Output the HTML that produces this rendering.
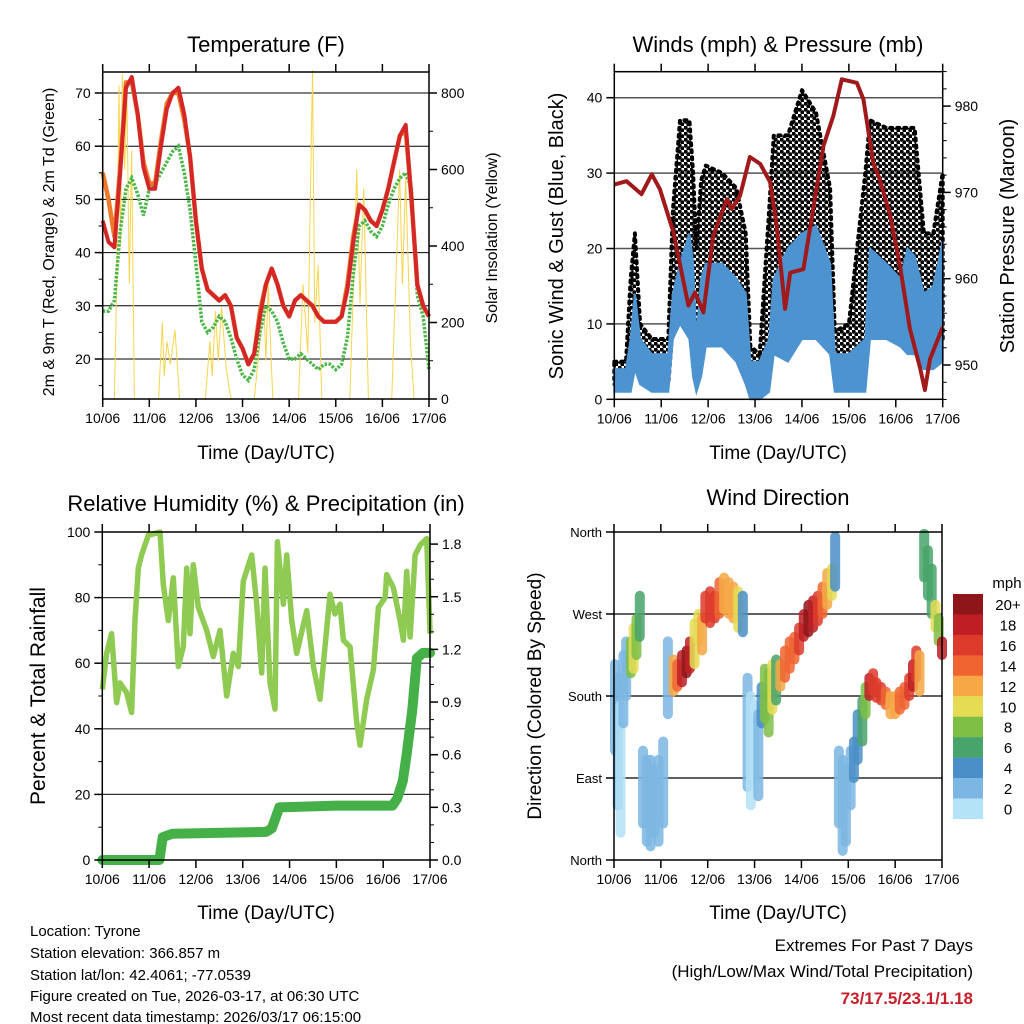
<!DOCTYPE html>
<html><head><meta charset="utf-8"><style>
html,body{margin:0;padding:0;background:#fff;}
svg{display:block;font-family:"Liberation Sans",Arial,sans-serif;}
</style></head><body>
<svg id="root" width="1024" height="1024" viewBox="0 0 1024 1024" xmlns="http://www.w3.org/2000/svg">
<defs>
<pattern id="dots" width="6" height="6" patternUnits="userSpaceOnUse">
<circle cx="1.5" cy="1.5" r="2.2" fill="#000"/>
<circle cx="4.5" cy="4.5" r="2.2" fill="#000"/>
</pattern>
</defs>
<rect x="0" y="0" width="1024" height="1024" fill="#fff"/>
<text x="266" y="52" font-size="22" text-anchor="middle">Temperature (F)</text>
<text x="778" y="52" font-size="22" text-anchor="middle">Winds (mph) &amp; Pressure (mb)</text>
<text x="266" y="511" font-size="22" text-anchor="middle">Relative Humidity (%) &amp; Precipitation (in)</text>
<text x="778" y="505" font-size="22" text-anchor="middle">Wind Direction</text>
<text x="266" y="459" font-size="19" text-anchor="middle">Time (Day/UTC)</text>
<text x="778" y="459" font-size="19" text-anchor="middle">Time (Day/UTC)</text>
<text x="266" y="919" font-size="19" text-anchor="middle">Time (Day/UTC)</text>
<text x="778" y="919" font-size="19" text-anchor="middle">Time (Day/UTC)</text>
<text transform="translate(54,242) rotate(-90)" font-size="16" text-anchor="middle">2m &amp; 9m T (Red, Orange) &amp; 2m Td (Green)</text>
<text transform="translate(497,238) rotate(-90)" font-size="16" text-anchor="middle">Solar Insolation (Yellow)</text>
<text transform="translate(563,236) rotate(-90)" font-size="20" text-anchor="middle">Sonic Wind &amp; Gust (Blue, Black)</text>
<text transform="translate(1014,236) rotate(-90)" font-size="20" text-anchor="middle">Station Pressure (Maroon)</text>
<text transform="translate(45,696) rotate(-90)" font-size="21" text-anchor="middle">Percent &amp; Total Rainfall</text>
<text transform="translate(541,696) rotate(-90)" font-size="19" text-anchor="middle">Direction (Colored By Speed)</text>
<text x="1007" y="588" font-size="15" text-anchor="middle">mph</text>
<g font-size="15">
<text x="30" y="936">Location: Tyrone</text>
<text x="30" y="958">Station elevation: 366.857 m</text>
<text x="30" y="980">Station lat/lon: 42.4061; -77.0539</text>
<text x="30" y="1001">Figure created on Tue, 2026-03-17, at 06:30 UTC</text>
<text x="30" y="1022">Most recent data timestamp: 2026/03/17 06:15:00</text>
</g>
<text x="973" y="951" font-size="17" text-anchor="end">Extremes For Past 7 Days</text>
<text x="973" y="977" font-size="17" text-anchor="end">(High/Low/Max Wind/Total Precipitation)</text>
<text x="973" y="1004" font-size="17" font-weight="bold" fill="#c8202a" text-anchor="end">73/17.5/23.1/1.18</text>
</svg>
<script>
const dayLabels=['10/06','11/06','12/06','13/06','14/06','15/06','16/06','17/06'];
const tempRed=[46,42,41,55,71,73,66,56,52,52,60,67,70,71,66,58,46,37,33,32,31,32,30,24,22,19,21,28,34,37,34,30,28,31,32,31,30,28,27,27,27,28,33,42,49,48,46,45,48,52,57,62,64,50,34,30,28];
const tempOrange=[55,50,43,56,72,72,66,57,53,53,61,68,70,70,65,58,46,37,33,32,31,32,30,24,22,19,21,29,34,37,34,30,28,31,32,31,30,28,27,27,27,28,34,43,49,48,46,45,48,52,57,62,63,50,34,30,28];
const dewGreen=[29,29,31,44,52,54,51,47,52,53,55,57,59,60,55,48,38,27,25,26,28,27,24,20,17,16,18,25,30,29,27,23,20,20,21,20,19,18,19,19,18,19,24,36,45,46,44,43,45,49,52,54,55,52,32,28,18];
const solarT=[0,0.25,0.3,0.35,0.38,0.42,0.47,0.52,0.57,0.62,0.68,1.2,1.28,1.32,1.38,1.45,1.55,1.65,2.2,2.3,2.35,2.42,2.48,2.55,2.65,2.75,3.25,3.35,3.45,3.5,3.55,3.65,4.2,4.3,4.4,4.5,4.55,4.62,4.7,5.3,5.38,5.45,5.52,5.6,5.7,6.2,6.3,6.37,6.43,6.5,6.6,6.68,7];
const solarV=[0,0,300,820,400,850,600,800,300,650,0,0,200,60,150,90,180,0,0,150,60,230,100,240,80,0,0,120,280,100,300,0,0,300,120,860,200,350,0,0,300,600,250,550,0,0,350,600,300,580,150,0,0];
const windT=[0,0.25,0.35,0.44,0.55,0.8,1.15,1.25,1.4,1.6,1.68,1.75,1.85,1.95,2.3,2.6,2.8,2.9,3.1,3.3,3.4,3.7,4.0,4.3,4.6,4.7,5.0,5.35,5.45,5.8,6.1,6.25,6.4,6.6,6.8,7];
const blueLo=[1,1,1,4,2,1,1,8,10,8,3,1,3,7,7,5,2,0,0,1,6,5,8,8,6,1,1,1,8,8,7,6,6,4,4,5];
const blueHi=[4,4,8,14,8,6,6,14,18,22,18,8,16,18,18,16,14,5,5,8,16,20,22,23,18,6,6,8,20,18,16,20,19,14,15,21];
const gustLo=[2,2,3,10,3,2,2,10,14,14,6,3,8,12,14,10,5,1,1,3,12,12,14,15,12,2,2,3,16,15,14,10,10,8,8,8];
const gustHi=[5,5,16,22,10,8,8,25,37,37,30,20,29,31,30,28,22,7,6,25,35,35,41,38,28,9,10,30,37,36,36,36,36,22,22,30];
const pressT=[0,0.26,0.58,0.8,0.97,1.26,1.58,1.72,1.9,2.11,2.4,2.5,2.68,2.89,3.11,3.32,3.46,3.64,3.75,4.03,4.24,4.46,4.67,4.85,5.17,5.31,5.52,5.66,5.88,6.09,6.3,6.52,6.62,6.73,7.0];
const pressV=[970.9,971.3,969.8,972.1,970.4,965.4,956.9,958.4,956.1,965,969.2,968.1,969.6,974.1,973.3,971.2,966.2,956.5,960.7,961.1,968.1,975.4,978.9,983.1,982.7,980.8,973.4,971.5,967.3,961.5,954.2,949.6,947.1,950.7,954.4];
const rhZx=[247,260,275,290,300,320,335,345,355,365,385,420,430,445,460,475,490,500,510,520,535,560,580,600,620,640,655,670,695,710,725,735,750,765,772,790,800,815,830,860,880,900,915,930,945,960,970,990,1010,1020,1040,1060,1075,1095,1100,1120,1140,1150,1160,1170,1185,1200,1220,1230];
const rhV=[52,63,69,48,54,51,45,73,89,93,99,100,84,73,86,59,65,89,69,90,77,70,62,70,50,63,59,85,93,78,57,89,54,46,97,78,93,73,63,76,59,49,65,81,75,78,67,65,42,35,49,58,77,80,87,83,73,67,88,68,93,96,98,69];
const rainT=[0,1.22,1.29,1.5,3.5,3.62,3.78,5,6.2,6.3,6.42,6.5,6.62,6.72,6.85,7];
const rainV=[0,0,0.13,0.15,0.16,0.18,0.30,0.31,0.31,0.35,0.45,0.6,0.85,1.15,1.18,1.18];
const dirT=[0.02,0.08,0.14,0.2,0.26,0.36,0.42,0.48,0.55,0.62,0.7,0.78,0.86,0.95,1.05,1.15,1.27,1.35,1.45,1.55,1.62,1.72,1.8,1.88,1.95,2.05,2.15,2.25,2.35,2.45,2.55,2.65,2.75,2.85,2.92,3.0,3.08,3.15,3.22,3.3,3.38,3.46,3.55,3.65,3.75,3.85,3.95,4.05,4.15,4.25,4.35,4.45,4.55,4.65,4.72,4.8,4.88,4.95,5.05,5.12,5.2,5.3,5.37,5.45,5.53,5.6,5.7,5.8,5.9,6.0,6.1,6.2,6.3,6.38,6.45,6.52,6.62,6.7,6.78,6.86,6.93,7.0];
const dirLo=[120,60,30,150,180,205,210,225,245,40,20,15,30,20,40,160,185,190,195,205,210,215,240,230,265,260,265,270,275,270,265,255,250,80,60,90,70,150,155,140,165,175,190,200,210,220,230,245,250,255,262,270,280,290,300,40,10,20,60,90,110,130,160,180,185,178,175,170,160,160,165,170,180,190,200,185,310,290,270,255,240,225];
const dirHi=[215,200,170,225,240,240,255,265,290,120,110,110,100,110,130,240,220,215,225,230,240,260,270,265,290,295,290,305,310,305,300,295,290,200,180,170,160,190,210,205,215,220,215,230,240,245,255,270,280,285,290,300,315,320,355,120,110,100,120,130,160,175,190,200,205,195,190,185,180,180,185,190,200,215,230,225,358,340,320,280,265,240];
const dirSpd=[2,2,1,3,3,9,11,8,6,2,2,2,3,2,2,3,12,14,18,20,18,11,10,12,16,17,16,14,13,13,12,11,4,2,1,1,2,5,8,9,10,7,12,14,15,14,16,18,20,19,17,15,13,11,4,2,2,2,3,4,5,7,9,18,17,16,16,14,13,12,14,15,17,18,16,12,7,6,7,10,8,19];
const cbLabels=['20+','18','16','14','12','10','8','6','4','2','0'];
const cbColors=['#8e1518','#be1e24','#dd3a2b','#ef6430','#f6a845','#e5dc54','#7ebf46','#48a46a','#4a8fc8','#7cb7e3','#b4e2f6'];

const NS='http://www.w3.org/2000/svg';
const root=document.getElementById('root');
function mk(tag,attrs,parent){const e=document.createElementNS(NS,tag);for(const k in attrs)e.setAttribute(k,attrs[k]);(parent||root).appendChild(e);return e;}
function spdColor(s){const idx=Math.min(10,Math.floor(s/2));return cbColors[10-idx];}

function xTicks(P,grp){
  for(let i=0;i<8;i++){
    const x=P.x0+i*(P.x1-P.x0)/7;
    const t1=mk('line',{x1:x,x2:x,y1:P.y1,y2:P.y1+8,stroke:'#000','stroke-width':1.5},grp);
    
    
    const t2=mk('line',{x1:x,x2:x,y1:P.y0-8,y2:P.y0,stroke:'#000','stroke-width':1.5},grp);
    
    
    const lb=mk('text',{x:x,y:P.y1+24,'font-size':14,'text-anchor':'middle'},grp);
    lb.textContent=dayLabels[i];
    
    
  }
}
function yAxis(P,grp,vals,fy,side,fmt,minor){
  const big=side==='left';
  vals.forEach(v=>{
    const y=fy(v);
    const x=big?P.x0:P.x1;
    const tk=mk('line',{x1:x,x2:big?x-8:x+8,y1:y,y2:y,stroke:'#000','stroke-width':1.5},grp);
    
    
    const lb=mk('text',{x:big?x-12:x+12,y:y+5,'font-size':14,'text-anchor':big?'end':'start'},grp);
    lb.textContent=fmt(v);
    
    
  });
  (minor||[]).forEach(v=>{
    const y=fy(v);const x=big?P.x0:P.x1;
    const tk=mk('line',{x1:x,x2:big?x-4:x+4,y1:y,y2:y,stroke:'#000','stroke-width':1},grp);
    
    
  });
}
function grid(P,grp,vals,fy,color,w){
  vals.forEach(v=>{
    const gl=mk('line',{x1:P.x0,x2:P.x1,y1:fy(v),y2:fy(v),stroke:color,'stroke-width':w},grp);
    
    
  });
}
function frame(P,grp){
  const r=mk('rect',{x:P.x0,y:P.y0,width:P.x1-P.x0,height:P.y1-P.y0,fill:'none',stroke:'#000','stroke-width':1.5},grp);
  
  
}
function pathFrom(xs,ys){return xs.map((x,i)=>(i?'L':'M')+x.toFixed(1)+','+ys[i].toFixed(1)).join('');}
function rng(a,b,s){const o=[];for(let v=a;v<=b+1e-9;v+=s)o.push(+v.toFixed(3));return o;}

// ---- Temperature
(function(){
  const P={x0:102.7,x1:429,y0:72,y1:399};
  const g=mk('g',{});
  
  
  const tx=t=>P.x0+t*(P.x1-P.x0)/7;
  const ty=v=>359-(v-20)*5.32;
  const sy=v=>399-v*0.3825;
  grid(P,g,[20,30,40,50,60,70],ty,'#000',1);
  const sol=mk('path',{d:pathFrom(solarT.map(tx),solarV.map(sy)),fill:'none',stroke:'#f7d54a','stroke-width':1},g);
  
  
  const grid8=tempRed.map((_,i)=>i*0.125);
  const dg=mk('path',{d:pathFrom(grid8.map(tx),dewGreen.map(ty)),fill:'none',stroke:'#4cb648','stroke-width':3.5,'stroke-dasharray':'2.5 1.5'},g);
  
  
  const org=mk('path',{d:pathFrom(grid8.map(tx),tempOrange.map(ty)),fill:'none',stroke:'#f07a2a','stroke-width':4.5,'stroke-linejoin':'round'},g);
  
  
  const red=mk('path',{d:pathFrom(grid8.map(tx),tempRed.map(ty)),fill:'none',stroke:'#d42828','stroke-width':4,'stroke-linejoin':'round'},g);
  
  
  frame(P,g);xTicks(P,g);
  yAxis(P,g,[20,30,40,50,60,70],ty,'left',v=>v,[15,25,35,45,55,65]);
  yAxis(P,g,[0,200,400,600,800],sy,'right',v=>v,[100,300,500,700]);
})();

// ---- Winds
(function(){
  const P={x0:614.3,x1:942.7,y0:71.7,y1:399.3};
  const g=mk('g',{});
  
  
  const tx=t=>P.x0+t*(P.x1-P.x0)/7;
  const wy=v=>399.3-v*7.54;
  const py=v=>365-(v-950)*8.63;
  grid(P,g,[10,20,30,40],wy,'#555',1.5);
  const gp=mk('path',{d:pathFrom(windT.map(tx),gustHi.map(wy))+pathFrom(windT.slice().reverse().map(tx),gustLo.slice().reverse().map(wy)).replace('M','L')+'Z',fill:'url(#dots)',stroke:'#000','stroke-width':4,'stroke-dasharray':'2 5','stroke-linecap':'round','stroke-linejoin':'round'},g);
  
  
  const bp=mk('path',{d:pathFrom(windT.map(tx),blueHi.map(wy))+pathFrom(windT.slice().reverse().map(tx),blueLo.slice().reverse().map(wy)).replace('M','L')+'Z',fill:'#4d93d0',stroke:'#4d93d0','stroke-width':2},g);
  
  
  const pr=mk('path',{d:pathFrom(pressT.map(tx),pressV.map(py)),fill:'none',stroke:'#a01a1c','stroke-width':4,'stroke-linejoin':'round'},g);
  
  
  frame(P,g);xTicks(P,g);
  yAxis(P,g,[0,10,20,30,40],wy,'left',v=>v,[]);
  yAxis(P,g,[950,960,970,980],py,'right',v=>v,rng(946,984,2).filter(v=>v%10));
})();

// ---- RH & rain
(function(){
  const P={x0:102.3,x1:430,y0:532,y1:860};
  const g=mk('g',{});
  
  
  const tx=t=>P.x0+t*(P.x1-P.x0)/7;
  const hy=v=>860-v*3.28;
  const ry=v=>860-v*175.5;
  grid(P,g,[20,40,60,80],hy,'#333',1.2);
  const rhT=rhZx.map(z=>(z-247)/140.4);
  const rh=mk('path',{d:pathFrom(rhT.map(tx),rhV.map(hy)),fill:'none',stroke:'#8fca52','stroke-width':5.5,'stroke-linejoin':'round'},g);
  
  
  const rn=mk('path',{d:pathFrom(rainT.map(tx),rainV.map(ry)),fill:'none',stroke:'#45b048','stroke-width':10,'stroke-linejoin':'round','stroke-linecap':'round'},g);
  
  
  frame(P,g);xTicks(P,g);
  yAxis(P,g,[0,20,40,60,80,100],hy,'left',v=>v,[10,30,50,70,90]);
  yAxis(P,g,[0,0.3,0.6,0.9,1.2,1.5,1.8],ry,'right',v=>v.toFixed(1),[0.1,0.2,0.4,0.5,0.7,0.8,1.0,1.1,1.3,1.4,1.6,1.7]);
})();

// ---- Wind direction
(function(){
  const P={x0:614,x1:942,y0:532,y1:860};
  const g=mk('g',{});
  
  
  const tx=t=>P.x0+t*(P.x1-P.x0)/7;
  const dy=v=>860-v*(328/360);
  grid(P,g,[90,180,270],dy,'#000',1.2);
  dirT.forEach((t,i)=>{
    const s=mk('line',{x1:tx(t),x2:tx(t),y1:dy(dirLo[i]),y2:dy(dirHi[i]),stroke:spdColor(dirSpd[i]),'stroke-width':10,'stroke-linecap':'round',opacity:0.85},g);
    
    
  });
  frame(P,g);xTicks(P,g);
  const names=['North','East','South','West','North'];
  [0,90,180,270,360].forEach((v,i)=>{
    const tk=mk('line',{x1:P.x0-8,x2:P.x0,y1:dy(v),y2:dy(v),stroke:'#000','stroke-width':1.5},g);
    
    
    const lb=mk('text',{x:P.x0-12,y:dy(v)+5,'font-size':13,'text-anchor':'end'},g);
    lb.textContent=names[i];
    
    
  });
  cbColors.forEach((c,i)=>{
    const r=mk('rect',{x:953,y:594+i*20.45,width:30,height:20.6,fill:c},g);
    
    
    const lb=mk('text',{x:1008,y:594+i*20.45+16,'font-size':15,'text-anchor':'middle'},g);
    lb.textContent=cbLabels[i];
    
    
  });
})();
</script>
</body></html>
